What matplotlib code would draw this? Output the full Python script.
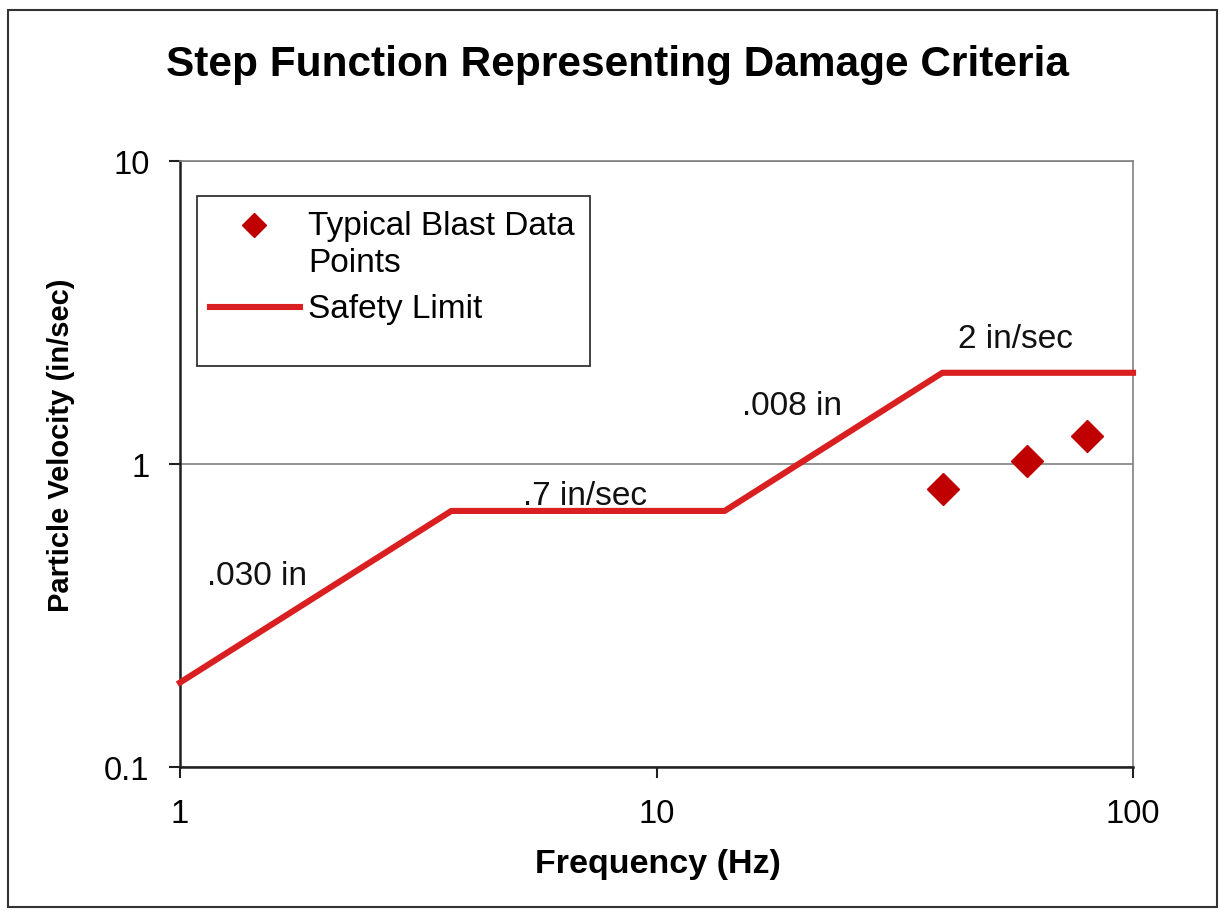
import matplotlib
matplotlib.use("Agg")
import matplotlib.pyplot as plt
from matplotlib.patches import Rectangle

plt.rcParams['font.family'] = ['Liberation Sans', 'DejaVu Sans']

# Data
limit_freq = [1, 3.71, 13.9, 39.8, 100]
limit_vel = [0.19, 0.7, 0.7, 2.0, 2.0]
blast_freq = [40, 60, 80]
blast_vel = [0.83, 1.02, 1.24]
annotations = [(".030 in", 1.14, 0.43), (".7 in/sec", 5.25, 0.79),
               (".008 in", 15.1, 1.56), ("2 in/sec", 42.9, 2.6)]
legend_labels = ['Typical Blast Data\nPoints', 'Safety Limit']

RED_LINE = '#d91f1f'
RED_MARK = '#c00000'

fig = plt.figure(figsize=(12.2, 9.12), dpi=100)
L, R, T, B = 180, 1133, 162, 768
ax = fig.add_axes([L/1220, 1-B/912, (R-L)/1220, (B-T)/912])
ax.set_xscale('log')
ax.set_yscale('log')
ax.set_xlim(1, 100)
ax.set_ylim(0.1, 10)

def axc(px, py):
    return (px - L) / (R - L), (B - py) / (B - T)

ax.yaxis.grid(True, which='major', color='#808080', linewidth=1.2)
ax.set_axisbelow(True)
ax.minorticks_off()

for s in ['top', 'right']:
    ax.spines[s].set_color('#808080')
    ax.spines[s].set_linewidth(1.2)
for s in ['left', 'bottom']:
    ax.spines[s].set_color('#202020')
    ax.spines[s].set_linewidth(1.8)

ax.set_xticks([1, 10, 100])
ax.set_xticklabels(['1', '10', '100'])
ax.set_yticks([0.1, 1, 10])
ax.set_yticklabels(['0.1', '1', '10'])
ax.tick_params(axis='both', which='major', labelsize=23.5, direction='out',
               length=8, width=1.5, color='#202020')
ax.tick_params(axis='x', pad=14)
ax.tick_params(axis='y', pad=14)

ax.plot(limit_freq, limit_vel, color=RED_LINE, linewidth=4.4,
        solid_capstyle='projecting', clip_on=False, zorder=3)
ax.plot(blast_freq, blast_vel, linestyle='none', marker='D', markersize=16,
        color=RED_MARK, zorder=4)

for txt, x, y in annotations:
    ax.text(x, y, txt, fontsize=24, ha='left', va='center', color='#111111')

ax.set_xlabel('Frequency (Hz)', fontsize=24.5, fontweight='bold')
ax.xaxis.set_label_coords(*axc(658, 865))
ax.xaxis.label.set_va('center')
ax.set_ylabel('Particle Velocity (in/sec)', fontsize=21, fontweight='bold')
ax.yaxis.set_label_coords(*axc(61, 445))
ax.yaxis.label.set_va('center')

fig.text(617/1220, 1-65/912, 'Step Function Representing Damage Criteria',
         fontsize=30.5, fontweight='bold', ha='center', va='center')

# Legend (drawn by hand to match the original layout)
x0, y0 = axc(197, 367)
x1, y1 = axc(590, 197)
ax.add_patch(Rectangle((x0, y0), x1 - x0, y1 - y0, transform=ax.transAxes,
                       facecolor='white', edgecolor='#333333', linewidth=1.3,
                       zorder=5, clip_on=False))
mx, my = axc(254, 226)
ax.plot([mx], [my], transform=ax.transAxes, linestyle='none', marker='D',
        markersize=12.5, color=RED_MARK, zorder=6, clip_on=False)
lx0, ly = axc(210, 308)
lx1, _ = axc(300, 308)
ax.plot([lx0, lx1], [ly, ly], transform=ax.transAxes, color=RED_LINE,
        linewidth=4.4, zorder=6, clip_on=False)
first_lines = legend_labels[0].split('\n')
for line, base in zip(first_lines, [235, 272]):
    tx, ty = axc(308, base)
    ax.text(tx, ty, line, transform=ax.transAxes, fontsize=24,
            ha='left', va='baseline', zorder=7)
tx2, ty2 = axc(308, 318)
ax.text(tx2, ty2, legend_labels[1], transform=ax.transAxes, fontsize=24,
        ha='left', va='baseline', zorder=7)

# Figure border
fig.add_artist(Rectangle((8/1220, 1-908/912), (1217-8)/1220, (908-11)/912,
                         transform=fig.transFigure, fill=False,
                         edgecolor='#333333', linewidth=1.5))

fig.savefig('out.png', dpi=100, facecolor='white')
